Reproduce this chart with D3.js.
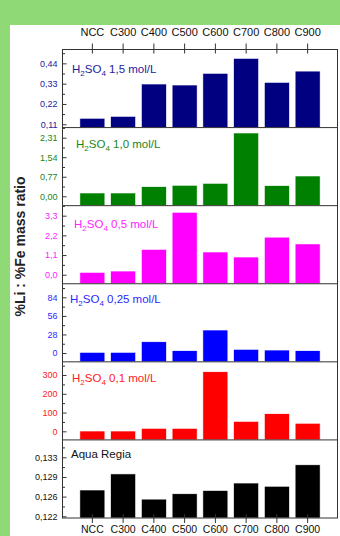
<!DOCTYPE html>
<html><head><meta charset="utf-8">
<script src="https://cdn.jsdelivr.net/npm/d3@7"></script>
<style>
html,body{margin:0;padding:0;background:#8fd976;}
svg{display:block;}
text{font-family:"Liberation Sans",Arial,sans-serif;}
</style></head>
<body>
<script>
// ---- data ----
const categories = ["NCC","C300","C400","C500","C600","C700","C800","C900"];
const panelNames = ["1,5","1,0","0,5","0,25","0,1","Aqua Regia"];
const valuesH2SO4_15  = [0.1425,0.153,0.328,0.3226,0.386,0.467,0.337,0.398];
const valuesH2SO4_10  = [0.13,0.13,0.378,0.434,0.512,2.495,0.418,0.80];
const valuesH2SO4_05  = [0.134,0.207,1.42,3.49,1.27,0.99,2.10,1.72];
const valuesH2SO4_025 = [1.06,1.06,17.0,3.5,34.7,5.6,4.5,3.5];
const valuesH2SO4_01  = [1.6,1.6,16,16,317.5,53,94,43];
const valuesAquaRegia = [0.1274,0.1304,0.1257,0.1267,0.1273,0.1287,0.1281,0.1321];
const domains = [[0.092,0.515],[-0.37,2.708],[-0.503,3.859],[-13.3,104.5],[-45.8,370.3],[0.12218,0.13674]];
const tickValues = [[0.11,0.22,0.33,0.44],[0,0.77,1.54,2.31],[0,1.1,2.2,3.3],[0,28,56,84],[0,100,200,300],[0.1225,0.12617,0.12983,0.1335]];
const tickLabels = [["0,11","0,22","0,33","0,44"],["0,00","0,77","1,54","2,31"],["0,0","1,1","2,2","3,3"],["0","28","56","84"],["0","100","200","300"],["0,122","0,126","0,129","0,133"]];
const yAxisTitle = "%Li : %Fe mass ratio";

const series = [valuesH2SO4_15,valuesH2SO4_10,valuesH2SO4_05,valuesH2SO4_025,valuesH2SO4_01,valuesAquaRegia];
const colors = ["#000080","#008000","#ff00ff","#0000ff","#ff0000","#000000"];
const textColors = ["#22229a","#1a861a","#ff22ff","#2a2aff","#ff2020","#111111"];
const titlePos = [[72,73],[76,148],[74,227.5],[70,303],[72,381.5],[71,458]];

const W=340,H=536;
const svg=d3.select("body").append("svg").attr("width",W).attr("height",H);
svg.append("rect").attr("x",10).attr("y",25).attr("width",330).attr("height",511).attr("fill","#ffffff");

const L=62.5,R=337.5,T=49.5,B=518;
const x=d3.scaleBand().domain(categories).range([L,R]).paddingInner(0.187).paddingOuter(0.565);
const panels=d3.scaleBand().domain(d3.range(6)).range([T,B]).padding(0);
const axisColor="#333";

series.forEach((vals,i)=>{
  const top=panels(i), bot=top+panels.bandwidth();
  const y=d3.scaleLinear().domain(domains[i]).range([bot,top]);
  const g=svg.append("g");
  g.selectAll("rect.bar").data(vals).join("rect").attr("class","bar")
    .attr("x",(d,j)=>x(categories[j])).attr("width",x.bandwidth())
    .attr("y",d=>y(d)).attr("height",d=>bot-y(d)).attr("fill",colors[i])
    .attr("stroke","#ffffff").attr("stroke-width",0.6);
  // minor ticks
  const tv=tickValues[i], step=tv[1]-tv[0];
  const minors=[];
  for(let v=tv[0]-step/2; v<=domains[i][1]; v+=step){ if(v>=domains[i][0]) minors.push(v); }
  const minorAx=d3.axisLeft(y).tickValues(minors).tickSize(-2.5).tickFormat("");
  const ga=g.append("g").attr("transform",`translate(${L},0)`).call(minorAx);
  ga.select(".domain").remove();
  ga.selectAll("line").attr("stroke",axisColor);
  const ax=d3.axisLeft(y).tickValues(tv).tickSize(-4).tickPadding(5).tickFormat((d,k)=>tickLabels[i][k]);
  const gb=g.append("g").attr("transform",`translate(${L},0)`).call(ax);
  gb.select(".domain").remove();
  gb.selectAll("line").attr("stroke",axisColor);
  gb.selectAll("text").attr("fill",textColors[i]).style("font-size","9px").style("font-family","Liberation Sans, Arial, sans-serif");
  // panel title
  const t=g.append("text").attr("x",titlePos[i][0]).attr("y",titlePos[i][1]).attr("fill",textColors[i]).style("font-size","11.5px");
  if(i<5){
    t.append("tspan").text("H");
    t.append("tspan").text("2").attr("dy",3).style("font-size","8px");
    t.append("tspan").text("SO").attr("dy",-3);
    t.append("tspan").text("4").attr("dy",3).style("font-size","8px");
    t.append("tspan").text(" "+panelNames[i]+" mol/L").attr("dy",-3);
  } else {
    t.text(panelNames[i]);
  }
  if(i>0){
    svg.append("line").attr("x1",L).attr("x2",R).attr("y1",top).attr("y2",top).attr("stroke",axisColor).attr("stroke-width",1);
  }
});

// frame
svg.append("rect").attr("x",L).attr("y",T).attr("width",R-L).attr("height",B-T).attr("fill","none").attr("stroke",axisColor).attr("stroke-width",1);

// top axis
const gt=svg.append("g").attr("transform",`translate(0,${T})`).call(d3.axisTop(x).tickSize(6).tickPadding(7.5));
gt.select(".domain").remove();
gt.selectAll("line").attr("stroke",axisColor);
gt.selectAll("text").style("font-size","11px").attr("fill","#111").style("font-family","Liberation Sans, Arial, sans-serif");
svg.append("g").selectAll("line").data(categories).join("line")
  .attr("x1",d=>x(d)+x.bandwidth()/2).attr("x2",d=>x(d)+x.bandwidth()/2)
  .attr("y1",T).attr("y2",T+4).attr("stroke",axisColor);

// bottom axis
const gbm=svg.append("g").attr("transform",`translate(0,${B})`).call(d3.axisBottom(x).tickSize(5).tickPadding(2.5));
gbm.select(".domain").remove();
gbm.selectAll("line").attr("stroke",axisColor);
gbm.selectAll("text").style("font-size","10.5px").attr("fill","#111").style("font-family","Liberation Sans, Arial, sans-serif");
svg.append("g").selectAll("line").data(categories).join("line")
  .attr("x1",d=>x(d)+x.bandwidth()/2).attr("x2",d=>x(d)+x.bandwidth()/2)
  .attr("y1",B).attr("y2",B-4).attr("stroke",axisColor);

// y title
svg.append("text").attr("transform","translate(25,246.5) rotate(-90)").attr("text-anchor","middle")
  .style("font-size","14px").style("font-weight","bold").attr("fill","#222").text(yAxisTitle);
</script>
</body></html>
